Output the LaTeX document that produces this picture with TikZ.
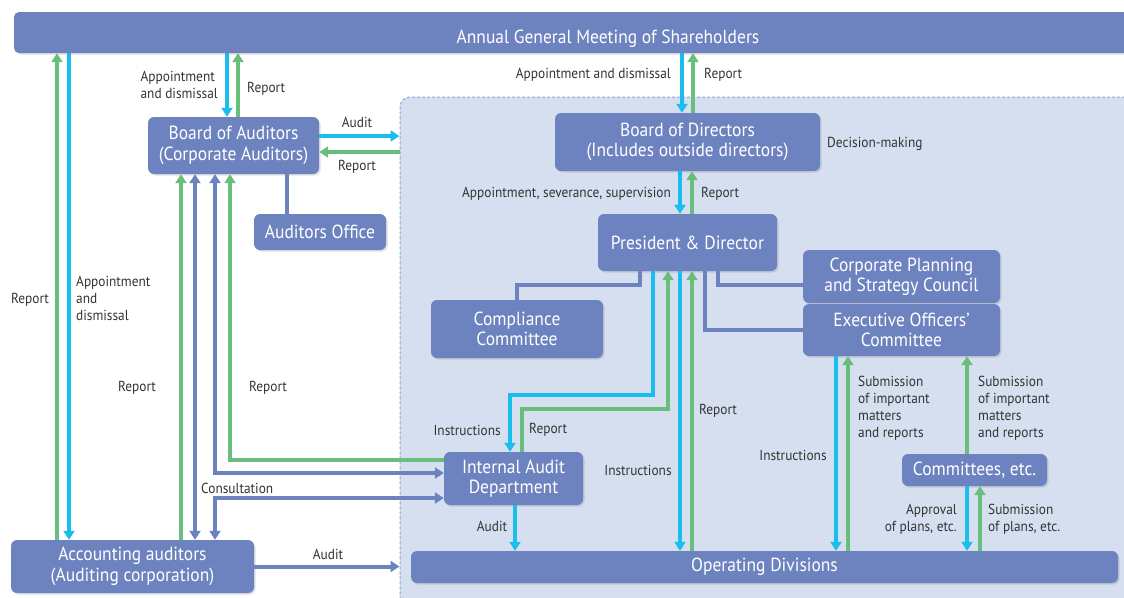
\documentclass[tikz,border=0pt]{standalone}
\usepackage{fontspec}
\setmainfont{PT Sans}[FakeStretch=0.92]
\usetikzlibrary{arrows.meta,shadows}
\definecolor{boxblue}{HTML}{6D83C0}
\definecolor{linecyan}{HTML}{1BBDEC}
\definecolor{linegreen}{HTML}{68BE7A}
\definecolor{groupfill}{HTML}{D5DFF0}
\definecolor{groupdraw}{HTML}{8FA3D8}
\definecolor{labelgray}{HTML}{333333}
\begin{document}
\begin{tikzpicture}[x=1pt,y=-1pt,
    box/.style={rounded corners=6pt,fill=boxblue,text=white,align=center,inner sep=0pt,
      font=\fontsize{19}{20.5}\selectfont,
      drop shadow={shadow xshift=1.5pt,shadow yshift=-1.5pt,opacity=0.25}},
    lbl/.style={text=labelgray,inner sep=0pt,font=\fontsize{14.5}{17}\selectfont},
    headed/.style={-{Triangle[width=11pt,length=9pt]}},
    bothheaded/.style={{Triangle[width=11pt,length=9pt]}-{Triangle[width=11pt,length=9pt]}},
    cyanline/.style={draw=linecyan,line width=4pt},
    greenline/.style={draw=linegreen,line width=4pt},
    blueline/.style={draw=boxblue,line width=4pt}]
  \useasboundingbox (0,0) rectangle (1124,597);
  \begin{scope}
    \clip (0,0) rectangle (1124,597);
    \node[fill=groupfill,draw=groupdraw,dash pattern=on 3pt off 2pt,line width=1pt,rounded corners=10pt,
      minimum width=760pt,minimum height=530pt,inner sep=0pt] (grp) at (780,362) {};
    \node[box,align=none,rounded corners=5pt,minimum width=1188pt,minimum height=41pt,text height=21pt,text depth=0pt] (agm) at (608,32.5) {Annual General Meeting of Shareholders};
  \end{scope}

  \node[box,minimum width=171pt,minimum height=57pt] (boa) at (233.5,145.5) {Board of Auditors\\(Corporate Auditors)};
  \node[box,minimum width=132pt,minimum height=36pt] (office) at (320,232) {Auditors Office};
  \node[box,minimum width=265pt,minimum height=58pt] (bod) at (687.5,142) {Board of Directors\\(Includes outside directors)};
  \node[box,minimum width=179pt,minimum height=57pt] (pres) at (687.5,242.5) {President \& Director};
  \node[box,minimum width=197pt,minimum height=53pt] (cps) at (901.5,276.5) {Corporate Planning\\and Strategy Council};
  \node[box,minimum width=197pt,minimum height=52pt] (eoc) at (901.5,330) {Executive Officers'\\Committee};
  \node[box,minimum width=172pt,minimum height=58pt] (comp) at (517,329) {Compliance\\Committee};
  \node[box,minimum width=139pt,minimum height=53pt] (iad) at (513.5,478.5) {Internal Audit\\Department};
  \node[box,minimum width=145pt,minimum height=32pt] (com) at (974.5,470) {Committees, etc.};
  \node[box,minimum width=707pt,minimum height=32pt] (opd) at (764.5,567) {Operating Divisions};
  \node[box,minimum width=243pt,minimum height=53pt] (acc) at (132.5,566.5) {Accounting auditors\\(Auditing corporation)};

  \draw[cyanline,headed] (227,0 |- agm.south) -- (227,0 |- boa.north);
  \draw[greenline,headed] (238,0 |- boa.north) -- (238,0 |- agm.south);
  \draw[greenline,headed] (57,0 |- acc.north) -- (57,0 |- agm.south);
  \draw[cyanline,headed] (69,0 |- agm.south) -- (69,0 |- acc.north);
  \draw[cyanline,headed] (682,0 |- agm.south) -- (682,0 |- bod.north);
  \draw[greenline,headed] (693,0 |- bod.north) -- (693,0 |- agm.south);
  \draw[cyanline,headed] (boa.east |- 0,136) -- (grp.west |- 0,136);
  \draw[greenline,headed] (grp.west |- 0,152) -- (boa.east |- 0,152);
  \draw[cyanline,headed] (680,0 |- bod.south) -- (680,0 |- pres.north);
  \draw[greenline,headed] (692,0 |- pres.north) -- (692,0 |- bod.south);

  \draw[blueline] (287,0 |- boa.south) -- (287,0 |- office.north);
  \draw[greenline,headed] (181,0 |- acc.north) -- (181,0 |- boa.south);
  \draw[blueline,bothheaded] (195,0 |- boa.south) -- (195,0 |- acc.north);
  \draw[blueline,bothheaded] (215,0 |- boa.south) |- (iad.west |- 0,473);
  \draw[blueline,bothheaded] (215,0 |- acc.north) |- (iad.west |- 0,498);
  \draw[greenline,headed] (iad.west |- 0,460) -| (230,0 |- boa.south);
  \draw[blueline,headed] (acc.east) -- (grp.west |- acc.east);

  \draw[blueline] (640,0 |- pres.south) |- (517,285) -- (comp.north);
  \draw[blueline] (718,0 |- pres.south) |- (cps.west |- 0,285);
  \draw[blueline] (705,0 |- pres.south) |- (eoc.west);
  \draw[cyanline,headed] (653,0 |- pres.south) |- (510,395) -- (510,0 |- iad.north);
  \draw[greenline,headed] (522,0 |- iad.north) |- (668,409) -- (668,0 |- pres.south);
  \draw[cyanline,headed] (680,0 |- pres.south) -- (680,0 |- opd.north);
  \draw[greenline,headed] (692,0 |- opd.north) -- (692,0 |- pres.south);
  \draw[cyanline,headed] (515,0 |- iad.south) -- (515,0 |- opd.north);
  \draw[cyanline,headed] (836,0 |- eoc.south) -- (836,0 |- opd.north);
  \draw[greenline,headed] (848,0 |- opd.north) -- (848,0 |- eoc.south);
  \draw[greenline,headed] (967,0 |- com.north) -- (967,0 |- eoc.south);
  \draw[cyanline,headed] (967,0 |- com.south) -- (967,0 |- opd.north);
  \draw[greenline,headed] (980,0 |- opd.north) -- (980,0 |- com.south);

  \node[lbl,anchor=east,align=left] (l1) at (218,85) {Appointment\\and dismissal};
  \node[lbl,anchor=west] (l2) at (247,89) {Report};
  \node[lbl] (l3) at (357,122) {Audit};
  \node[lbl] (l4) at (357,167) {Report};
  \node[lbl,anchor=east] (l5) at (671,75) {Appointment and dismissal};
  \node[lbl,anchor=west] (l6) at (704,75) {Report};
  \node[lbl,anchor=west] (l7) at (827,144) {Decision-making};
  \node[lbl,anchor=east] (l8) at (671,194) {Appointment, severance, supervision};
  \node[lbl,anchor=west] (l9) at (701,194) {Report};
  \node[lbl] (l10) at (30,300) {Report};
  \node[lbl,anchor=north west,align=left] (l11) at (76,276) {Appointment\\and\\dismissal};
  \node[lbl] (l12) at (137,388) {Report};
  \node[lbl] (l13) at (268,388) {Report};
  \node[lbl,anchor=west] (l14) at (201,488) {Consultation};
  \node[lbl] (l15) at (328,554) {Audit};
  \node[lbl,anchor=east] (l16) at (501,430) {Instructions};
  \node[lbl,anchor=west] (l17) at (529,430) {Report};
  \node[lbl] (l18) at (638,470) {Instructions};
  \node[lbl] (l19) at (718,411) {Report};
  \node[lbl] (l20) at (492,526) {Audit};
  \node[lbl] (l21) at (793,455) {Instructions};
  \node[lbl,anchor=north west,align=left] (l22) at (858,376) {Submission\\of important\\matters\\and reports};
  \node[lbl,anchor=north west,align=left] (l23) at (978,376) {Submission\\of important\\matters\\and reports};
  \node[lbl,anchor=east,align=right] (l24) at (957,519) {Approval\\of plans, etc.};
  \node[lbl,anchor=west,align=left] (l25) at (988,519) {Submission\\of plans, etc.};
\end{tikzpicture}
\end{document}
